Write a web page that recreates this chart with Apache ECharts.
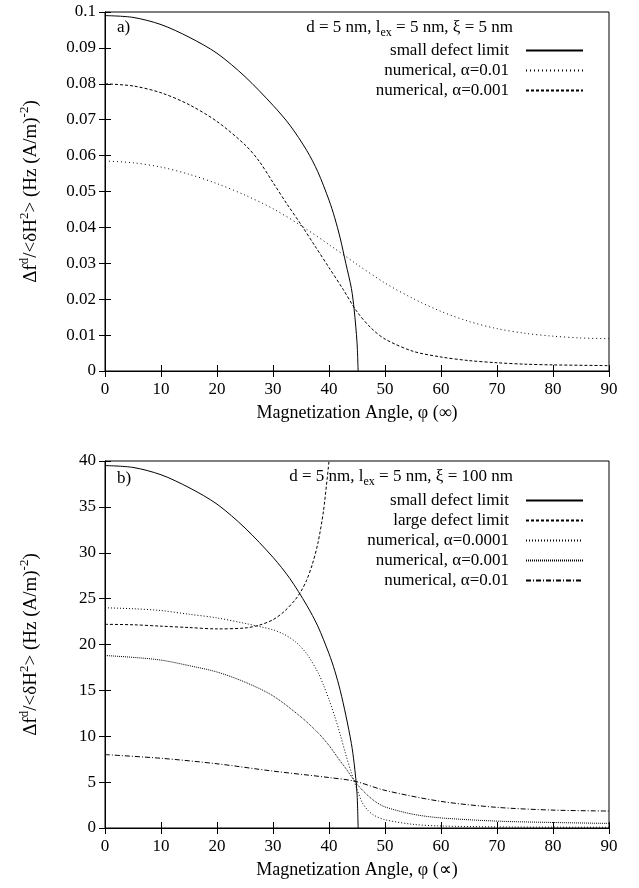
<!DOCTYPE html>
<html><head><meta charset="utf-8">
<script src="https://cdn.jsdelivr.net/npm/echarts@6/dist/echarts.min.js"></script>
<style>html,body{margin:0;padding:0;background:#fff}#c{width:639px;height:888px}</style>
</head><body><div id="c"></div>
<script>
// ---- Panel a) data ----
const phiA_small = [0,5,10,15,20,25,30,33,36,38,40,41,42,43,44,44.5,45,45.2];
const valA_small = [0.099,0.0985,0.0965,0.093,0.0885,0.082,0.074,0.0685,0.0615,0.0555,0.0476,0.0428,0.037,0.030,0.023,0.017,0.008,0];
const phiA_a01 = [0,5,10,15,20,25,30,35,40,45,50,55,60,65,70,75,80,85,90];
const valA_a01 = [0.0585,0.058,0.0568,0.0548,0.0522,0.049,0.0452,0.0405,0.0352,0.0297,0.0245,0.0202,0.0166,0.0138,0.0118,0.0105,0.0097,0.0092,0.009];
const phiA_a001 = [0,5,10,15,20,25,27.5,30,32.5,35,37.5,40,42.5,45,47.5,50,55,60,65,70,75,80,90];
const valA_a001 = [0.080,0.0794,0.0775,0.0742,0.0695,0.063,0.0585,0.0525,0.0465,0.0408,0.0348,0.0288,0.0228,0.0165,0.012,0.0089,0.0055,0.0039,0.0029,0.0023,0.0019,0.0017,0.0015];
// ---- Panel b) data ----
const phiB_small = [0,5,10,15,20,25,30,33,36,38,40,41,42,43,44,44.5,45,45.2];
const valB_small = [39.5,39.3,38.5,37.1,35.3,32.7,29.5,27.2,24.3,22.0,19.0,17.2,15.0,12.3,9.2,7.0,3.8,0];
const phiB_large = [0,5,10,15,20,25,27.5,30,32,34,35,36,37,38,39,40];
const valB_large = [22.2,22.15,22.0,21.85,21.7,21.8,22.1,22.7,23.6,24.9,25.8,27.0,28.7,31.0,34.5,40.0];
const phiB_a0001 = [0,5,10,15,20,25,28,30,32,34,36,38,39,40,41,42,43,44,45,46,47,48,50,55,60,70,90];
const valB_a0001 = [24.0,23.9,23.7,23.3,22.9,22.3,21.9,21.6,21.1,20.3,19.0,17.0,15.6,14.0,12.2,10.2,8.0,6.0,4.2,2.7,1.9,1.4,0.9,0.4,0.22,0.12,0.08];
const phiB_a001 = [0,5,10,15,20,25,30,35,38,40,42,43,44.6,46,48,50,55,60,70,80,90];
const valB_a001 = [18.8,18.6,18.3,17.7,17.0,15.9,14.4,12.1,10.4,9.0,7.3,6.5,5.1,4.1,3.0,2.3,1.5,1.1,0.75,0.6,0.5];
const phiB_a01 = [0,10,20,30,40,44.6,50,60,70,80,90];
const valB_a01 = [8.0,7.6,7.0,6.2,5.5,5.1,4.1,2.9,2.25,1.95,1.85];
// ---- Axis ticks ----
const xTicks = {min: 0, max: 90, interval: 10};
const yTicksA = {min: 0, max: 0.1, interval: 0.01};
const yTicksB = {min: 0, max: 40, interval: 5};

const FONT = 'Liberation Serif';
const pairs = (xs, ys) => xs.map((x, i) => [x, ys[i]]);

function xAx(grid, pos, showLabel, name) {
  return Object.assign({
    type: 'value', gridIndex: grid, position: pos, ...xTicks,
    axisLine: {show: true, lineStyle: {color: '#000', width: 1}},
    axisTick: {show: true, inside: true, length: 6, lineStyle: {color: '#000'}},
    axisLabel: {show: showLabel, color: '#000', fontFamily: FONT, fontSize: 17, margin: 10},
    splitLine: {show: false}
  }, name ? {name: name, nameLocation: 'middle', nameGap: 33,
    nameTextStyle: {color: '#000', fontFamily: FONT, fontSize: 18}} : {});
}
const yName = '{n|Δf}{s|d}{n|/<δH}{s|2}{n|> (Hz (A/m)}{s|-2}{n|)}';
const yRich = {
  n: {fontFamily: FONT, fontSize: 19, color: '#000', lineHeight: 23, verticalAlign: 'bottom'},
  s: {fontFamily: FONT, fontSize: 13, color: '#000', lineHeight: 23, verticalAlign: 'top'}
};
function yAx(grid, pos, showLabel, ticks, withName) {
  return Object.assign({
    type: 'value', gridIndex: grid, position: pos, ...ticks,
    axisLine: {show: true, lineStyle: {color: '#000', width: 1}},
    axisTick: {show: true, inside: true, length: 6, lineStyle: {color: '#000'}},
    axisLabel: {show: showLabel, color: '#000', fontFamily: FONT, fontSize: 17, margin: 9},
    splitLine: {show: false}
  }, withName ? {name: yName, nameLocation: 'middle', nameGap: 64,
    nameTextStyle: {rich: yRich}} : {});
}
function ser(name, xi, yi, xs, ys, type) {
  return {name: name, type: 'line', xAxisIndex: xi, yAxisIndex: yi,
    data: pairs(xs, ys), symbol: 'none', smooth: 0.3,
    lineStyle: {color: '#000', width: 1, type: type}, itemStyle: {color: '#000'},
    emphasis: {disabled: true}, animation: false, clip: true};
}
const DOT_A = [1, 3], DASH = [3, 2], DOT_B = [1, 2], DOT_C = [1, 1], DASHDOT = [5, 2, 1, 2];
const SUF = ' (b)';
const legendBase = {
  orient: 'vertical', right: 50, align: 'right', itemWidth: 57, itemHeight: 14, itemGap: 1,
  itemStyle: {color: 'transparent', borderColor: 'transparent', borderWidth: 0, opacity: 0},
  textStyle: {color: '#000', fontFamily: FONT, fontSize: 17, padding: [0, 12, 0, 0], lineHeight: 19},
  formatter: n => n.replace(SUF, ''), selectedMode: false, inactiveColor: '#000'
};
const titleRich = {
  n: {fontFamily: FONT, fontSize: 17, fontWeight: 'normal', color: '#000', lineHeight: 20, verticalAlign: 'top'},
  sub: {fontFamily: FONT, fontSize: 12, fontWeight: 'normal', color: '#000', lineHeight: 20, verticalAlign: 'bottom', padding: [8, 0, 0, 0]}
};
const option = {
  backgroundColor: '#fff',
  animation: false,
  grid: [
    {left: 105, top: 12, width: 504, height: 359, show: true, borderColor: '#000', borderWidth: 1},
    {left: 105, top: 461, width: 504, height: 367, show: true, borderColor: '#000', borderWidth: 1}
  ],
  title: [
    {text: '{n|d = 5 nm, l}{sub|ex}{n| = 5 nm, ξ = 5 nm}', right: 126, top: 19, padding: 0, textStyle: {fontWeight: 'normal', rich: titleRich}},
    {text: '{n|d = 5 nm, l}{sub|ex}{n| = 5 nm, ξ = 100 nm}', right: 126, top: 468, padding: 0, textStyle: {fontWeight: 'normal', rich: titleRich}},
    {text: 'a)', left: 117, top: 19, padding: 0, textStyle: {fontFamily: FONT, fontSize: 17, color: '#000', fontWeight: 'normal'}},
    {text: 'b)', left: 117, top: 470, padding: 0, textStyle: {fontFamily: FONT, fontSize: 17, color: '#000', fontWeight: 'normal'}}
  ],
  legend: [
    Object.assign({}, legendBase, {top: 36,
      data: ['small defect limit', 'numerical, α=0.01', 'numerical, α=0.001']}),
    Object.assign({}, legendBase, {top: 486,
      data: ['small defect limit' + SUF, 'large defect limit', 'numerical, α=0.0001', 'numerical, α=0.001' + SUF, 'numerical, α=0.01' + SUF]})
  ],
  xAxis: [
    xAx(0, 'bottom', true, 'Magnetization Angle, φ (∞)'),
    xAx(0, 'top', false),
    xAx(1, 'bottom', true, 'Magnetization Angle, φ (∝)'),
    xAx(1, 'top', false)
  ],
  yAxis: [
    yAx(0, 'left', true, yTicksA, true),
    yAx(0, 'right', false, yTicksA, false),
    yAx(1, 'left', true, yTicksB, true),
    yAx(1, 'right', false, yTicksB, false)
  ],
  series: [
    ser('small defect limit', 0, 0, phiA_small, valA_small, 'solid'),
    ser('numerical, α=0.01', 0, 0, phiA_a01, valA_a01, DOT_A),
    ser('numerical, α=0.001', 0, 0, phiA_a001, valA_a001, DASH),
    ser('small defect limit' + SUF, 2, 2, phiB_small, valB_small, 'solid'),
    ser('large defect limit', 2, 2, phiB_large, valB_large, DASH),
    ser('numerical, α=0.0001', 2, 2, phiB_a0001, valB_a0001, DOT_B),
    ser('numerical, α=0.001' + SUF, 2, 2, phiB_a001, valB_a001, DOT_C),
    ser('numerical, α=0.01' + SUF, 2, 2, phiB_a01, valB_a01, DASHDOT)
  ]
};
const chart = echarts.init(document.getElementById('c'), null, {renderer: 'canvas'});
chart.setOption(option);
</script></body></html>
